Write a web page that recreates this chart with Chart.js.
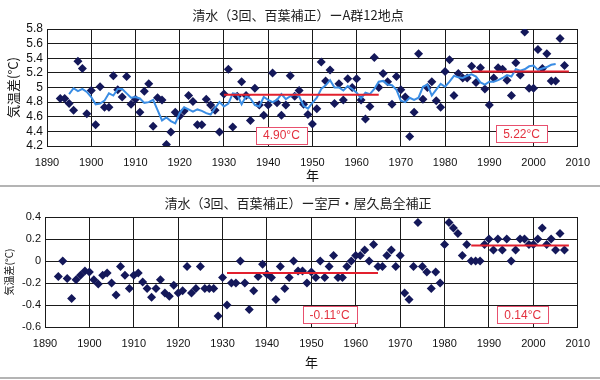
<!DOCTYPE html>
<html><head><meta charset="utf-8">
<script src="https://cdn.jsdelivr.net/npm/chart.js@4"></script>
<style>
html,body{margin:0;padding:0;background:#fff;}
#wrap{position:relative;width:600px;height:380px;overflow:hidden;background:#fff;}
.ttl{position:absolute;left:-2px;width:600px;text-align:center;font-family:"Noto Sans CJK JP",sans-serif;font-size:13px;color:#222;line-height:16px;white-space:nowrap;}
.sep{position:absolute;left:0;width:600px;height:2px;background:#b4b4b4;}
canvas{position:absolute;left:0;}
</style></head><body>
<div id="wrap">
<canvas id="c1" width="600" height="185" style="top:0"></canvas>
<canvas id="c2" width="600" height="190" style="top:190px"></canvas>
<div class="ttl" style="top:7px">清水（3回、百葉補正）ーA群12地点</div>
<div class="ttl" style="top:195px">清水（3回、百葉補正）ー室戸・屋久島全補正</div>
<div class="sep" style="top:185px"></div>
<div class="sep" style="top:377px"></div>
</div>
<script>
// ---- data ----
const years = [
 1893,1894,1895,1896,1897,1898,1899,1900,1901,1902,
 1903,1904,1905,1906,1907,1908,1909,1910,1911,1912,
 1913,1914,1915,1916,1917,1918,1919,1920,1921,1922,
 1923,1924,1925,1926,1927,1928,1929,1930,1931,1932,
 1933,1934,1935,1936,1937,1938,1939,1940,1941,1942,
 1943,1944,1945,1946,1947,1948,1949,1950,1951,1952,
 1953,1954,1955,1956,1957,1958,1959,1960,1961,1962,
 1963,1964,1965,1966,1967,1968,1969,1970,1971,1972,
 1973,1974,1975,1976,1977,1978,1979,1980,1981,1982,
 1983,1984,1985,1986,1987,1988,1989,1990,1991,1992,
 1993,1994,1995,1996,1997,1998,1999,2000,2001,2002,
 2003,2004,2005,2006,2007];

// top panel: temperature difference, A group 12 stations
const tempTop = [
 4.85,4.85,4.78,4.69,5.36,5.26,4.64,4.96,4.49,5.01,
 4.73,4.73,5.16,4.97,4.87,5.15,4.77,4.84,4.66,4.95,
 5.05,4.47,4.86,4.83,4.22,4.39,4.66,4.61,4.68,4.89,
 4.81,4.49,4.49,4.84,4.76,4.69,4.39,4.91,5.25,4.46,
 4.88,5.08,4.89,4.55,4.99,4.76,4.62,4.76,5.20,4.79,
 4.62,4.76,5.16,4.88,4.96,4.77,4.63,4.50,4.71,5.35,
 5.09,5.24,4.78,5.05,4.83,5.12,5.00,5.12,4.83,4.57,
 4.74,5.41,5.00,5.19,5.08,4.77,5.15,4.97,4.87,4.33,
 4.66,5.46,4.84,5.00,5.08,4.82,4.73,5.22,5.38,4.89,
 5.19,5.13,5.13,5.29,5.07,5.27,4.98,4.76,5.13,5.27,
 5.25,5.10,4.89,5.34,5.17,5.76,4.99,4.99,5.52,5.26,
 5.46,5.09,5.09,5.67,5.30];

// top panel: 5-year running mean line
const movAvgTop = [
 null,null,
 4.91,4.99,4.95,4.98,4.94,4.87,4.77,4.78,4.82,4.92,
 4.89,4.98,4.98,4.92,4.86,4.87,4.85,4.79,4.80,4.83,
 4.69,4.55,4.59,4.54,4.51,4.65,4.73,4.70,4.67,4.70,
 4.68,4.65,4.63,4.72,4.80,4.74,4.78,4.92,4.91,4.77,
 4.88,4.85,4.76,4.74,4.87,4.83,4.80,4.83,4.91,4.84,
 4.88,4.91,4.88,4.75,4.71,4.79,4.86,4.98,5.03,5.10,
 5.00,5.00,4.96,5.02,4.98,4.93,4.85,4.93,4.91,4.98,
 5.08,5.09,5.04,5.03,4.97,4.82,4.80,4.86,4.83,4.86,
 5.01,5.04,4.89,4.97,5.05,5.01,5.08,5.16,5.14,5.13,
 5.16,5.18,5.15,5.07,5.04,5.08,5.08,5.10,5.13,5.17,
 5.15,5.25,5.23,5.25,5.29,5.30,5.24,5.26,5.28,5.31,
 5.32,
 null,null];

// bottom panel: temperature difference, Muroto/Yakushima corrected
const tempBot = [
 -0.14,0.00,-0.16,-0.34,-0.17,-0.13,-0.09,-0.10,-0.17,-0.21,
 -0.13,-0.11,-0.20,-0.31,-0.05,-0.13,-0.25,-0.13,-0.11,-0.19,
 -0.25,-0.33,-0.25,-0.17,-0.29,-0.32,-0.22,-0.29,-0.27,-0.05,
 -0.29,-0.25,-0.05,-0.25,-0.25,-0.25,-0.50,-0.15,-0.40,-0.20,
 -0.20,0.00,-0.20,-0.44,-0.27,-0.14,-0.03,-0.12,-0.15,-0.35,
 -0.05,-0.25,-0.15,0.00,-0.09,-0.09,-0.20,-0.10,-0.15,0.00,
 -0.15,-0.05,0.05,-0.15,-0.15,-0.05,0.00,0.05,0.05,0.10,
 0.00,0.15,-0.05,-0.05,0.05,0.10,-0.05,0.05,-0.29,-0.35,
 -0.05,0.35,-0.05,-0.10,-0.25,-0.10,-0.20,0.15,0.35,0.30,
 0.25,0.05,0.15,0.00,0.00,0.00,0.15,0.20,0.10,0.20,
 0.10,0.20,0.00,0.10,0.20,0.20,0.15,0.15,0.20,0.30,
 0.15,0.20,0.10,0.25,0.10];

// period means (red segments)
const meanFromTop = [1930, 1986];
const meanToTop   = [1965, 2008];
const meanValTop  = [4.90, 5.22];
const meanLblTop  = ['4.90°C', '5.22°C'];
const meanFromBot = [1931, 1986];
const meanToBot   = [1965, 2008];
const meanValBot  = [-0.11, 0.14];
const meanLblBot  = ['-0.11°C', '0.14°C'];

// ticks
const xTicks = [1890,1900,1910,1920,1930,1940,1950,1960,1970,1980,1990,2000,2010];
const yTicksTop = [4.2,4.4,4.6,4.8,5.0,5.2,5.4,5.6,5.8];
const yLabelsTop = ['4.2','4.4','4.6','4.8','5','5.2','5.4','5.6','5.8'];
const yTicksBot = [-0.6,-0.4,-0.2,0,0.2,0.4];
const yLabelsBot = ['-0.6','-0.4','-0.2','0','0.2','0.4'];

// ---- drawing ----
const NUM_FONT = '"Liberation Sans", Arial, sans-serif';
const JP_FONT = '"Noto Sans CJK JP", sans-serif';

function boxPlugin(anchors, labels) {
  return {
    id: 'meanBoxes',
    afterDatasetsDraw(chart) {
      const {ctx, scales} = chart;
      anchors.forEach((a, i) => {
        const text = labels[i];
        ctx.save();
        ctx.font = '12px ' + NUM_FONT;
        const w = Math.round(ctx.measureText(text).width + 14);
        const h = 17;
        const cx = scales.x.getPixelForValue(a[0]);
        const cy = scales.y.getPixelForValue(a[1]);
        const lx = Math.round(cx - w / 2), ty = Math.round(cy - h / 2);
        ctx.fillStyle = '#fff';
        ctx.fillRect(lx, ty, w, h);
        ctx.strokeStyle = '#e8506e';
        ctx.lineWidth = 1;
        ctx.strokeRect(lx + 0.5, ty + 0.5, w, h);
        ctx.fillStyle = '#e3303e';
        ctx.textAlign = 'center';
        ctx.textBaseline = 'middle';
        ctx.fillText(text, cx, cy + 1);
        ctx.restore();
      });
    }
  };
}

function build(id, o) {
  const datasets = [];
  o.from.forEach((f, i) => {
    datasets.push({
      type: 'line',
      data: [{x: f, y: o.means[i]}, {x: o.to[i], y: o.means[i]}],
      borderColor: '#e2202e', borderWidth: 2, pointRadius: 0, fill: false, order: 0
    });
  });
  if (o.ma) {
    datasets.push({
      type: 'line',
      data: years.map((x, i) => ({x, y: o.ma[i]})),
      borderColor: '#3a8de4', borderWidth: 2, pointRadius: 0, fill: false,
      tension: 0, spanGaps: false, order: 1
    });
  }
  datasets.push({
    type: 'scatter',
    data: years.map((x, i) => ({x, y: o.vals[i]})),
    pointStyle: 'rectRot', pointRadius: 4.5, pointHoverRadius: 4.5,
    backgroundColor: '#14185a', borderColor: '#14185a', borderWidth: 0, order: 2
  });

  new Chart(document.getElementById(id), {
    type: 'scatter',
    data: {datasets},
    options: {
      responsive: false, animation: false, devicePixelRatio: 1,
      events: [],
      layout: {padding: {left: 0, right: 21, top: o.padT, bottom: 0}},
      plugins: {legend: {display: false}, tooltip: {enabled: false}},
      scales: {
        x: {
          type: 'linear', min: 1890, max: 2010,
          afterBuildTicks: s => { s.ticks = xTicks.map(v => ({value: v})); },
          afterFit: s => { s.height = o.xH; },
          grid: {color: '#1a1a1a', lineWidth: 1, drawTicks: false},
          border: {color: '#1a1a1a', width: 1},
          ticks: {font: {family: NUM_FONT, size: 11}, color: '#111', padding: 10,
                  maxRotation: 0, autoSkip: false, callback: v => String(v)},
          title: {display: true, text: '年', color: '#111',
                  font: {family: JP_FONT, size: 13}, padding: {top: 0, bottom: o.xTitlePad}}
        },
        y: {
          type: 'linear', min: o.yTicks[0], max: o.yTicks[o.yTicks.length - 1],
          afterBuildTicks: s => { s.ticks = o.yTicks.map(v => ({value: v})); },
          afterFit: s => { s.width = o.yW; },
          grid: {color: '#1a1a1a', lineWidth: 1, drawTicks: false},
          border: {color: '#1a1a1a', width: 1},
          ticks: {font: {family: NUM_FONT, size: o.yFont}, color: '#111', padding: 4,
                  autoSkip: false, callback: (v, i) => o.yLabels[i]},
          title: {display: true, text: '気温差(°C)', color: '#111',
                  font: {family: JP_FONT, size: o.yTitleSize}, padding: {top: o.yTitlePad, bottom: 0}}
        }
      }
    },
    plugins: [boxPlugin(o.anchors, o.labels)]
  });
}

build('c1', {
  vals: tempTop, ma: movAvgTop,
  from: meanFromTop, to: meanToTop, means: meanValTop, labels: meanLblTop,
  anchors: [[1943.0, 4.35], [1997.3, 4.375]],
  yTicks: yTicksTop, yLabels: yLabelsTop,
  padT: 29, xH: 39, yW: 47, yFont: 12, yTitleSize: 13, yTitlePad: 5, xTitlePad: 2
});
build('c2', {
  vals: tempBot, ma: null,
  from: meanFromBot, to: meanToBot, means: meanValBot, labels: meanLblBot,
  anchors: [[1954.1, -0.49], [1997.6, -0.487]],
  yTicks: yTicksBot, yLabels: yLabelsBot,
  padT: 27, xH: 53, yW: 45, yFont: 11, yTitleSize: 10, yTitlePad: 3, xTitlePad: 10
});
</script>
</body></html>
